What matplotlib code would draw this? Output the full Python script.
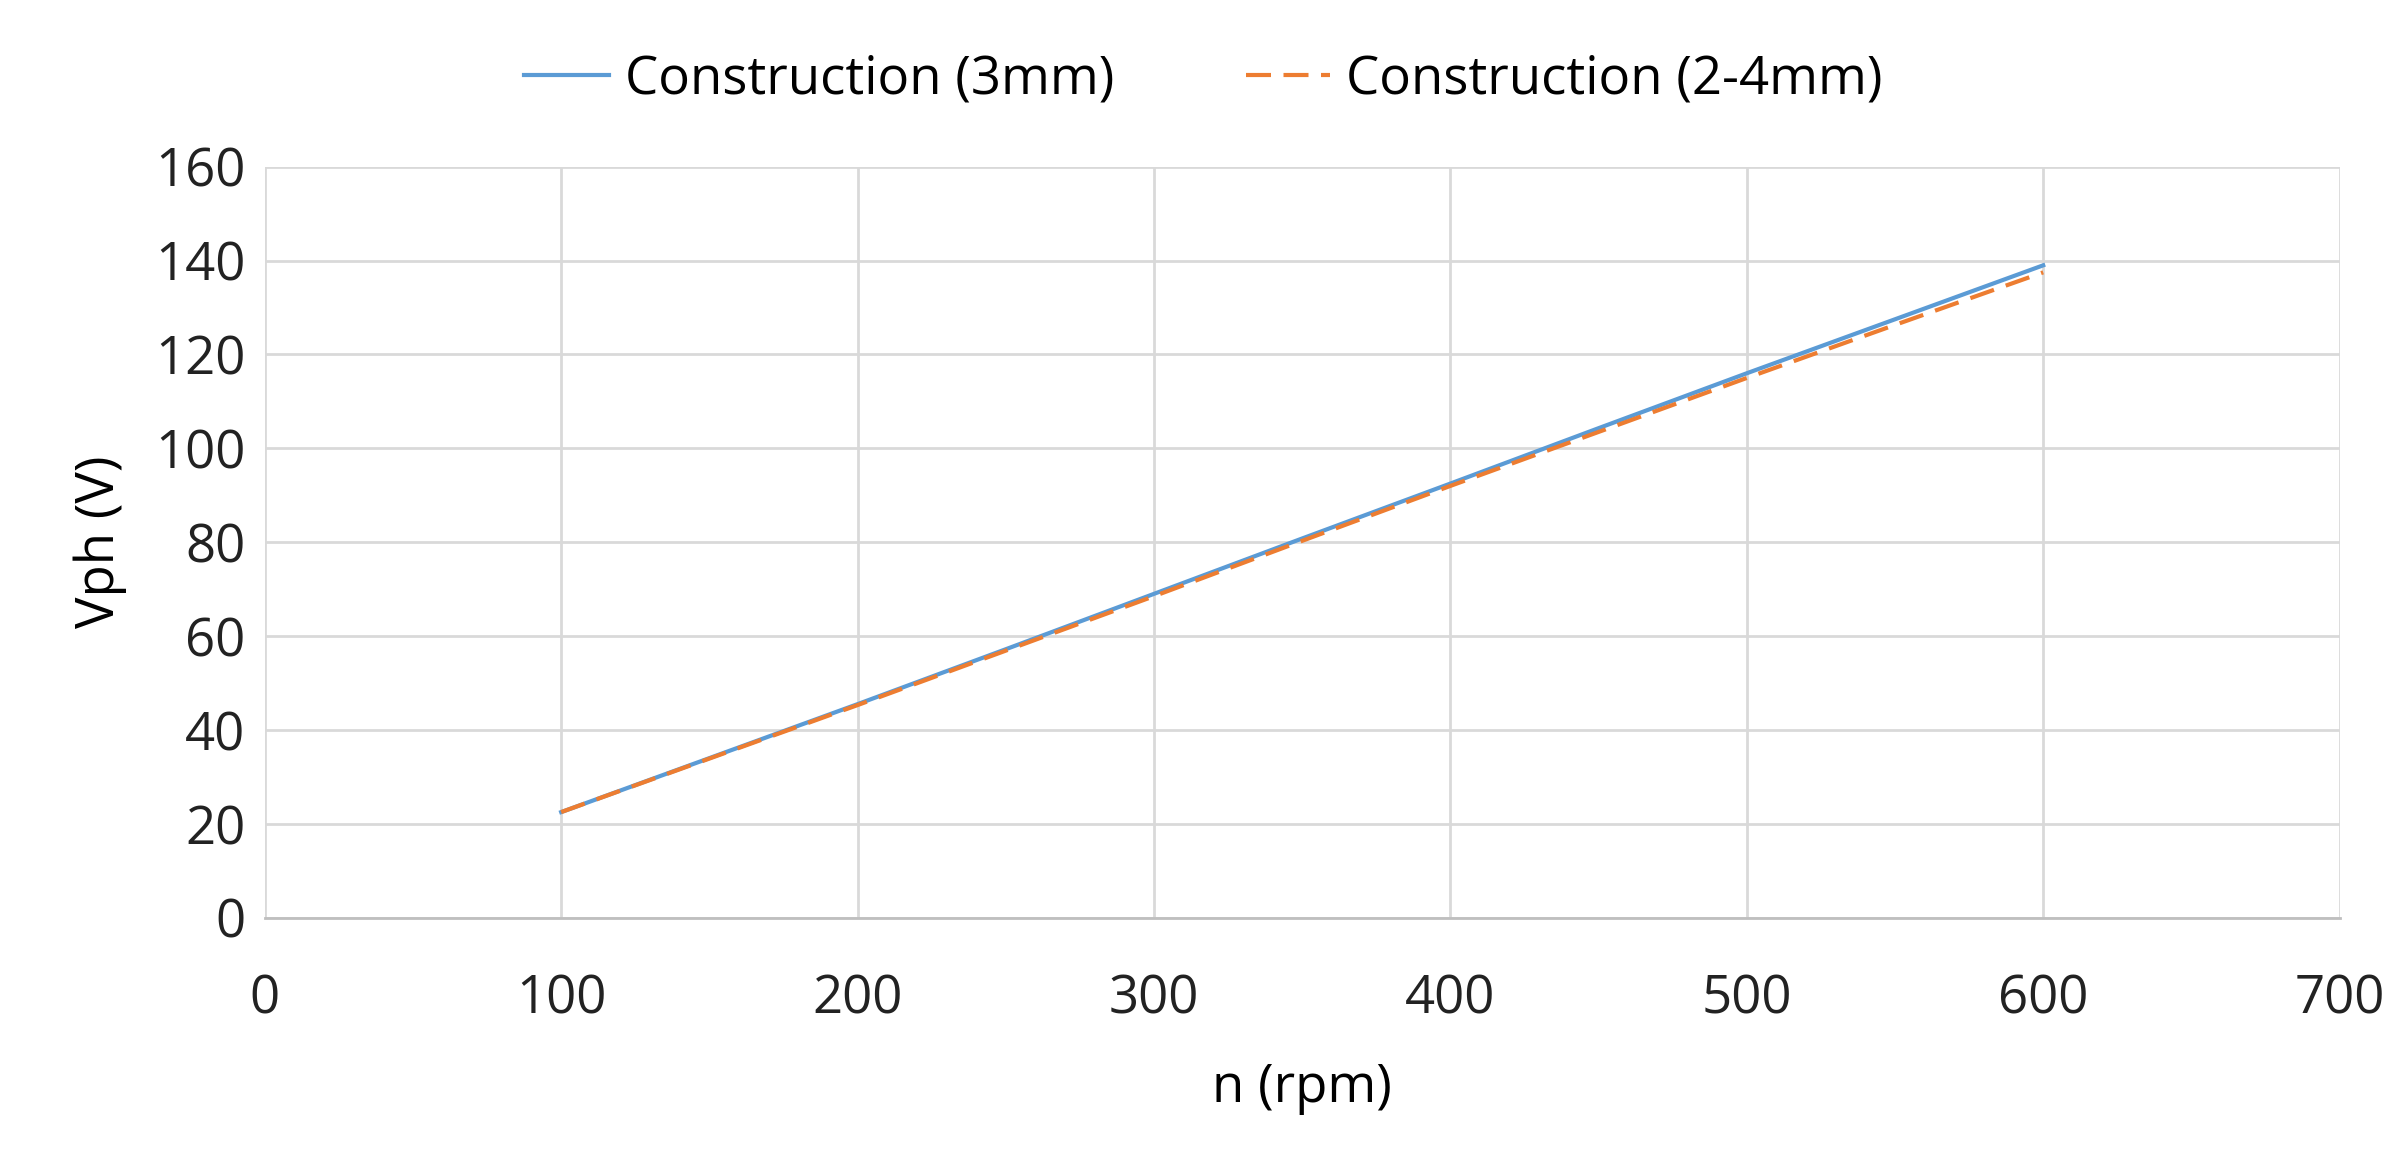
import numpy as np
import matplotlib.pyplot as plt

plt.rcParams['font.family'] = ['Open Sans', 'DejaVu Sans']

n_rpm = [100, 150, 200, 250, 300, 350, 400, 450, 500, 550, 600]
v_3mm = [22.5, 34.0, 45.5, 57.2, 69.0, 80.8, 92.5, 104.3, 116.0, 127.5, 139.0]
v_24mm = [22.5, 33.9, 45.3, 56.9, 68.5, 80.3, 92.0, 103.5, 115.0, 126.3, 137.5]

fig = plt.figure(figsize=(24.07, 11.5), dpi=100)
ax = fig.add_axes([0.110, 0.202, 0.862, 0.653])

ax.plot(n_rpm, v_3mm, color='#5b9bd5', lw=3, label='Construction (3mm)')
ax.plot(n_rpm, v_24mm, color='#ed7d31', lw=3, ls=(0, (6, 3)), label='Construction (2-4mm)')

ax.set_xlim(0, 700)
ax.set_ylim(0, 160)
ax.set_xticks(range(0, 701, 100))
ax.set_yticks(range(0, 161, 20))
ax.grid(True, color='#d9d9d9', lw=2)
ax.set_axisbelow(True)
for s in ['top', 'right', 'left']:
    ax.spines[s].set_visible(False)
ax.spines['bottom'].set_color('#bfbfbf')
ax.spines['bottom'].set_linewidth(2)
ax.tick_params(length=0, labelsize=38, colors='#222222', pad=14)
ax.tick_params(axis='x', pad=40)
ax.set_xlabel('n (rpm)', fontsize=38, labelpad=25)
ax.set_ylabel('Vph (V)', fontsize=38, labelpad=20)

fig.legend(loc='upper center', bbox_to_anchor=(0.5, 0.995), ncol=2, frameon=False,
           fontsize=38, handlelength=1.6, handletextpad=0.3, columnspacing=2.5)

fig.savefig('out.png', dpi=100)
